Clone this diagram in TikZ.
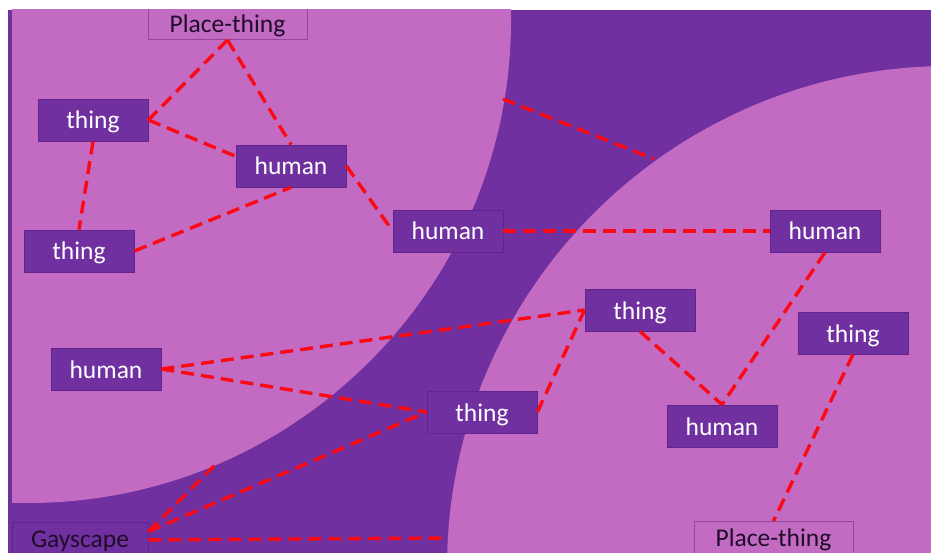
\documentclass[tikz,border=0pt]{standalone}
\usepackage{fontspec}
\setmainfont{Carlito}
\usetikzlibrary{calc}
\definecolor{lightpurp}{RGB}{195,106,194}
\definecolor{darkpurp}{RGB}{112,48,160}
\definecolor{boxedge}{RGB}{96,36,140}
\definecolor{placeedge}{RGB}{150,70,160}
\definecolor{inktext}{RGB}{30,12,40}
\definecolor{linkred}{RGB}{250,10,20}
\tikzset{
  x=1pt, y=-1pt,
  darkbox/.style={draw=boxedge, line width=0.8pt, fill=darkpurp, text=white,
    minimum width=110pt, minimum height=42pt, inner sep=0pt,
    text height=22pt, text depth=4pt,
    font=\fontsize{25.5}{30}\selectfont},
  placebox/.style={draw=placeedge, line width=0.9pt,
    text=inktext, inner xsep=0pt, inner ysep=0pt,
    font=\fontsize{25.5}{30}\selectfont},
  link/.style={draw=linkred, line width=3.4pt, dash pattern=on 13pt off 7pt}
}
\begin{document}
\begin{tikzpicture}
\useasboundingbox (0,0) rectangle (931,553);
\fill[white] (0,0) rectangle (931,553);
\begin{scope}
  \clip (8,10) rectangle (931,553);
  \fill[darkpurp] (8,10) rectangle (931,553);
  % left and right light regions
  \begin{scope}
    \clip (12,10) rectangle (931,553);
    \fill[lightpurp] (28,20) circle[radius=483];
  \end{scope}
  \fill[lightpurp] (949,568) circle[radius=502];

  % nodes
  \node[placebox, minimum width=159pt, text height=29pt, text depth=7pt, anchor=south]
    (ptTop) at (227.5,40) {Place-thing};
  \node[darkbox] (thTL) at (93,120) {thing};
  \node[darkbox] (huA) at (291,166) {human};
  \node[darkbox] (thL) at (79,251) {thing};
  \node[darkbox] (huC) at (448,231) {human};
  \node[darkbox] (huR) at (825,231) {human};
  \node[darkbox] (thCR) at (640,310) {thing};
  \node[darkbox] (thR) at (853,333) {thing};
  \node[darkbox] (huL) at (106,369) {human};
  \node[darkbox] (thCB) at (482,412) {thing};
  \node[darkbox] (huBR) at (722,426) {human};
  \node[placebox, draw=boxedge, minimum width=136pt, text height=25pt, text depth=10pt, anchor=north]
    (gay) at (80,522) {Gayscape};
  \node[placebox, minimum width=159pt, text height=25pt, text depth=10pt, anchor=north]
    (ptBot) at (773.5,521) {Place-thing};

  % free ends on the region borders
  \coordinate (cA) at (503,99);
  \coordinate (cB) at (654,159);
  \coordinate (cC) at (217,463);
  \coordinate (cD) at (448,538);

  % dashed links
  \draw[link] (ptTop.south) -- (thTL.east);
  \draw[link] (ptTop.south) -- (huA.north);
  \draw[link] (thTL.east) -- (huA.170);
  \draw[link] (thTL.south) -- (thL.north);
  \draw[link] (thL.east) -- (huA.south);
  \draw[link] (huA.east) -- (huC.west);
  \draw[link] (cA) -- (cB);
  \draw[link] (huC.east) -- (huR.west);
  \draw[link] (huR.south) -- (huBR.north);
  \draw[link] (thCR.south) -- (huBR.north);
  \draw[link] (thR.south) -- (ptBot.north);
  \draw[link] (huL.east) -- (thCR.west);
  \draw[link] (huL.east) -- (thCB.west);
  \draw[link] (gay.7) -- (thCB.west);
  \draw[link] (gay.7) -- (cC);
  \draw[link] (gay.east) -- (cD);
  \draw[link] (thCB.east) -- (thCR.west);
\end{scope}
\end{tikzpicture}
\end{document}
